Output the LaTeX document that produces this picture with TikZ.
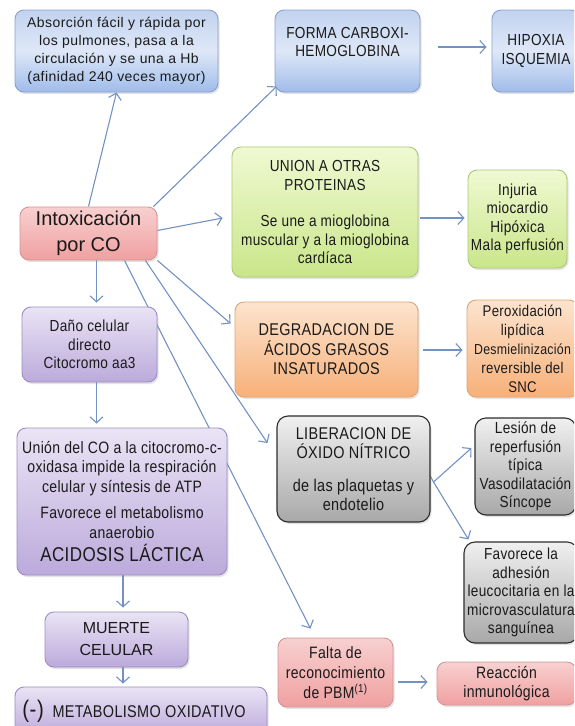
\documentclass[tikz,border=0pt]{standalone}
\usepackage{fontspec}
\setmainfont{Liberation Sans}
\newfontfamily\nar{Liberation Sans}[FakeStretch=0.85,LetterSpace=2]
\usetikzlibrary{arrows.meta,shadows,calc,backgrounds}
\definecolor{arrc}{HTML}{7392C4}
\definecolor{txt}{HTML}{1A1A1A}
\definecolor{bluetop}{HTML}{C2D3EF}\definecolor{bluemid}{HTML}{DEE7F7}\definecolor{bluebot}{HTML}{A0BCEA}\definecolor{bluebd}{HTML}{86A2D0}
\definecolor{redtop}{HTML}{F8D0D0}\definecolor{redbot}{HTML}{F0A0A0}\definecolor{redbd}{HTML}{D49696}
\definecolor{greentop}{HTML}{F0F9D2}\definecolor{greenbot}{HTML}{C9E68A}\definecolor{greenbd}{HTML}{ADC878}
\definecolor{orangetop}{HTML}{FCE4CE}\definecolor{orangebot}{HTML}{F7B079}\definecolor{orangebd}{HTML}{E2A570}
\definecolor{purptop}{HTML}{EAE4F5}\definecolor{purpbot}{HTML}{BBAADB}\definecolor{purpbd}{HTML}{9C8DC3}
\definecolor{graytop}{HTML}{F0F0F0}\definecolor{graybot}{HTML}{A8A8A8}\definecolor{graybd}{HTML}{2E2E2E}
\tikzset{
  bx/.style={rounded corners=9pt, line width=0.9pt, align=center, inner sep=2pt, text=txt,
    font=\nar\fontsize{16}{18.5}\selectfont,
    drop shadow={opacity=0.22, shadow xshift=1.5pt, shadow yshift=-2pt}},
  bluebox/.style={bx, draw=bluebd, top color=bluetop, bottom color=bluebot, middle color=bluemid},
  redbox/.style={bx, draw=redbd, top color=redtop, bottom color=redbot},
  greenbox/.style={bx, draw=greenbd, top color=greentop, bottom color=greenbot},
  orangebox/.style={bx, draw=orangebd, top color=orangetop, bottom color=orangebot},
  purpbox/.style={bx, draw=purpbd, top color=purptop, bottom color=purpbot},
  graybox/.style={bx, draw=graybd, line width=1.1pt, rounded corners=11pt, top color=graytop, bottom color=graybot},
  arr/.style={draw=arrc, line width=1.1pt, -{Straight Barb[length=6pt,width=13pt]}},
}
\begin{document}
\begin{tikzpicture}[x=1pt,y=-1pt]
\useasboundingbox (0,0) rectangle (574,726);
\clip (0,0) rectangle (574,726);
% nodes
\node[bluebox, minimum width=203pt, minimum height=82pt, font=\addfontfeature{LetterSpace=3}\fontsize{14}{18}\selectfont] (abs) at (116.5,51)
  {Absorción fácil y rápida por\\los pulmones, pasa a la\\circulación y se una a Hb\\(afinidad 240 veces mayor)};
\node[bluebox, minimum width=145pt, minimum height=82pt] (forma) at (347.5,51)
  {FORMA CARBOXI-\\HEMOGLOBINA\\\mbox{}};
\node[bluebox, minimum width=88pt, minimum height=82pt] (hip) at (536,51)
  {HIPOXIA\\ISQUEMIA};
\node[redbox, minimum width=137pt, minimum height=53pt, font=\fontsize{20}{26}\selectfont] (intox) at (88.5,233.5)
  {Intoxicación\\por CO};
\node[greenbox, minimum width=186pt, minimum height=130pt] (union) at (325,212)
  {UNION A OTRAS\\PROTEINAS\\[18pt]Se une a mioglobina\\muscular y a la mioglobina\\cardíaca};
\node[greenbox, minimum width=99pt, minimum height=98pt] (inj) at (517.5,219)
  {Injuria\\miocardio\\Hipóxica\\Mala perfusión};
\node[purpbox, minimum width=135pt, minimum height=75pt] (dano) at (89.5,344.5)
  {Daño celular\\directo\\Citocromo aa3};
\node[orangebox, minimum width=183pt, minimum height=95pt, font=\nar\fontsize{17}{19.5}\selectfont] (degr) at (326.5,349.5)
  {DEGRADACION DE\\ÁCIDOS GRASOS\\INSATURADOS};
\node[orangebox, minimum width=111pt, minimum height=97pt, font=\nar\fontsize{15.5}{19}\selectfont] (perox) at (522.5,348.5)
  {Peroxidación\\lipídica\\{\fontsize{14.5}{19}\selectfont Desmielinización}\\reversible del\\SNC};
\node[purpbox, minimum width=210pt, minimum height=147pt, font=\nar\fontsize{16.5}{19.5}\selectfont] (big) at (122,501.5)
  {Unión del CO a la citocromo-c-\\oxidasa impide la respiración\\celular y síntesis de ATP\\[7pt]Favorece el metabolismo\\anaerobio\\[4pt]{\fontsize{20}{24}\selectfont ACIDOSIS LÁCTICA}};
\node[graybox, minimum width=153pt, minimum height=106pt, font=\nar\fontsize{17}{18.5}\selectfont] (lib) at (353.5,469)
  {LIBERACION DE\\ÓXIDO NÍTRICO\\[15pt]de las plaquetas y\\endotelio};
\node[graybox, minimum width=101pt, minimum height=97pt] (les) at (525.5,466.5)
  {Lesión de\\reperfusión\\típica\\Vasodilatación\\Síncope};
\node[graybox, minimum width=114pt, minimum height=101pt] (fav) at (521,592.5)
  {Favorece la\\adhesión\\leucocitaria en la\\microvasculatura\\sanguínea};
\node[purpbox, minimum width=143pt, minimum height=55pt, font=\fontsize{16}{22}\selectfont] (muerte) at (116.5,639.5)
  {MUERTE\\CELULAR};
\node[purpbox, minimum width=252pt, minimum height=48pt, font=\nar\fontsize{17}{20}\selectfont] (metab) at (141,711)
  {\hspace*{-14pt}{\fontsize{24}{24}\selectfont(-)}\ \ METABOLISMO OXIDATIVO};
\node[redbox, minimum width=115pt, minimum height=69pt, font=\nar\fontsize{16.5}{20}\selectfont] (falta) at (335.5,672.5)
  {Falta de\\reconocimiento\\de PBM\textsuperscript{(1)}};
\node[redbox, minimum width=139pt, minimum height=43pt, font=\nar\fontsize{16.5}{19}\selectfont] (reac) at (506.5,683.5)
  {Reacción\\inmunológica};
% connectors
\begin{scope}[on background layer]
  \fill[white] (0,0) rectangle (574,726);
  \draw[arr] (intox.north) -- (abs.south);
  \draw[arr] ($(intox.north east)+(-4,0)$) -- ($(forma.south west)+(2,-6)$);
  \draw[arr] ($(intox.east)+(0,-3)$) -- ($(union.west)+(-9,6)$);
  \draw[arr] ($(intox.south)+(8,0)$) -- ($(dano.north)+(7,-4)$);
  \draw[arr] (intox.south east) -- ($(degr.west)+(-4,-26)$);
  \draw[arr] ($(intox.south east)+(-12,0)$) -- ($(lib.west)+(-9,-26)$);
  \draw[arr] ($(intox.south)+(36,0)$) -- ($(falta.north)+(-25,-9)$);
  \draw[arr] ($(dano.south)+(7,0)$) -- ($(big.north)+(-25.5,-4)$);
  \draw[arr] ($(big.south)+(1,0)$) -- ($(muerte.north)+(6.5,-4)$);
  \draw[arr] ($(muerte.south)+(6.5,0)$) -- ($(metab.north)+(-18,-3)$);
  \draw[arr] ($(forma.east)+(18,-4)$) -- ($(hip.west)+(-5,-4)$);
  \draw[arr] ($(union.east)+(2,6)$) -- ($(inj.west)+(-3,-1)$);
  \draw[arr] ($(degr.east)+(5,0.5)$) -- ($(perox.west)+(-4,1.5)$);
  \coordinate (fork) at ($(lib.east)+(3,13)$);
  \draw[arr] ($(lib.east)+(-2,4)$) -- (fork) -- ($(les.west)+(-3,-18.5)$);
  \draw[arr] (fork) -- ($(fav.north west)+(5,-2)$);
  \draw[arr] ($(falta.east)+(5,9.5)$) -- ($(reac.west)+(-9,-1.5)$);
\end{scope}
\end{tikzpicture}
\end{document}
